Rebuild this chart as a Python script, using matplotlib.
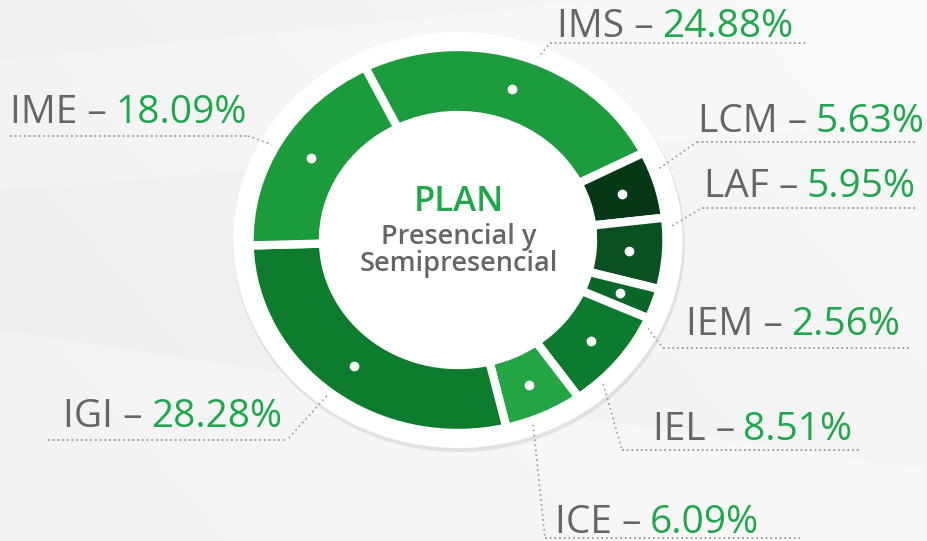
import numpy as np
import matplotlib.pyplot as plt
from matplotlib.patches import Circle, Polygon

# data
labels = ["IMS", "LCM", "LAF", "IEM", "IEL", "ICE", "IGI", "IME"]
shares = [24.88, 5.63, 5.95, 2.56, 8.51, 6.09, 28.28, 18.09]
colors = ["#1c9c3d", "#053815", "#0a5020", "#0b6727",
          "#0c7b2d", "#22a542", "#0d7c2c", "#1c9b3c"]

W, H = 928, 541
SX = 1.08          # the reference donut is a bit wider than tall
GRAY = "#666666"
GREEN = "#1ea84a"
DOTS = "#9a9a9a"
FONT = ["Open Sans", "DejaVu Sans"]


def P(px, py):
    # pixel position in the picture -> data coords
    return px / SX, H - py


fig = plt.figure(figsize=(9.28, 5.41), dpi=100)
ax = fig.add_axes([0, 0, 1, 1])

# background: soft gray gradient with a few lighter diagonal sheets
yy, xx = np.mgrid[0:1:200j, 0:1:300j]
g = 0.93 + 0.03 * xx + 0.015 * (1 - yy)
ax.imshow(np.dstack([g, g, g]), extent=(0, W / SX, 0, H), aspect="auto", zorder=0)
for pts, a in [([(0, 330), (928, 470), (928, 541), (0, 541)], 0.35),
               ([(0, 60), (600, 0), (928, 0), (928, 120), (0, 190)], 0.25)]:
    ax.add_patch(Polygon([P(*p) for p in pts], closed=True, fc="white",
                         ec="none", alpha=a, zorder=0.5))

# donut
cx, cy = P(458, 240)
R_OUT, WIDTH = 193, 68
ax.add_patch(Circle((cx + 1, cy - 3), 209, fc="#bdbdbd", ec="none", alpha=0.35, zorder=1))
ax.add_patch(Circle((cx, cy), 208, fc="white", ec="none", zorder=1.5))

wedges, _ = ax.pie(shares, colors=colors, center=(cx, cy), radius=R_OUT,
                   startangle=116.5, counterclock=False, frame=True,
                   wedgeprops=dict(width=WIDTH, edgecolor="white", linewidth=6))
for w in wedges:
    w.set_zorder(3)

# label layout (pixels): text x, baseline y, underline y, underline x0, x1, side
layout = {
    "IMS": (557, 37, 43, 550, 808, "r"),
    "LCM": (698, 132, 142, 697, 915, "r"),
    "LAF": (704, 197, 208, 702, 918, "r"),
    "IEM": (686, 335, 348, 663, 910, "r"),
    "IEL": (653, 440, 450, 622, 860, "r"),
    "IGI": (63, 427, 440, 48, 287, "l"),
    "ICE": (555, 533, 538, 545, 800, "r"),
    "IME": (10, 123, 136, 10, 248, "l"),
}

r_mid = R_OUT - WIDTH / 2
for w, name, v in zip(wedges, labels, shares):
    mid = np.radians((w.theta1 + w.theta2) / 2)
    dx, dy = cx + r_mid * np.cos(mid), cy + r_mid * np.sin(mid)

    tx, base, ly, x0, x1, side = layout[name]
    ex = x0 if side == "r" else x1
    ax.plot([dx, P(ex, ly)[0]], [dy, P(ex, ly)[1]], color=DOTS, lw=1.2,
            ls=(0, (1, 2)), zorder=2.5)
    ax.plot([P(x0, ly)[0], P(x1, ly)[0]], [P(x0, ly)[1]] * 2, color=DOTS,
            lw=1.3, ls=(0, (1, 1.6)), zorder=2.5)
    ax.plot(dx, dy, "o", ms=6, mfc="white", mec="white", zorder=4)

    t = ax.text(*P(tx, base), name + " \u2013", color=GRAY, fontsize=28,
                family=FONT, fontweight="medium", va="baseline", ha="left", zorder=5)
    ax.annotate(f"{v:.2f}%", xy=(1, 0), xycoords=t, xytext=(6, 0),
                textcoords="offset points", color=GREEN, fontsize=28,
                family=FONT, fontweight="medium", va="bottom", ha="left", zorder=5)

# centre text
ax.text(*P(459, 211), "PLAN", color=GREEN, fontsize=25, fontweight="semibold",
        family=FONT, ha="center", va="baseline", zorder=5)
ax.text(*P(459, 244), "Presencial y", color=GRAY, fontsize=19.5, fontweight="semibold",
        family=FONT, ha="center", va="baseline", zorder=5)
ax.text(*P(459, 271), "Semipresencial", color=GRAY, fontsize=19.5, fontweight="semibold",
        family=FONT, ha="center", va="baseline", zorder=5)

ax.set_xlim(0, W / SX)
ax.set_ylim(0, H)
ax.set_aspect("auto")
ax.axis("off")

fig.savefig("out.png", dpi=100)
